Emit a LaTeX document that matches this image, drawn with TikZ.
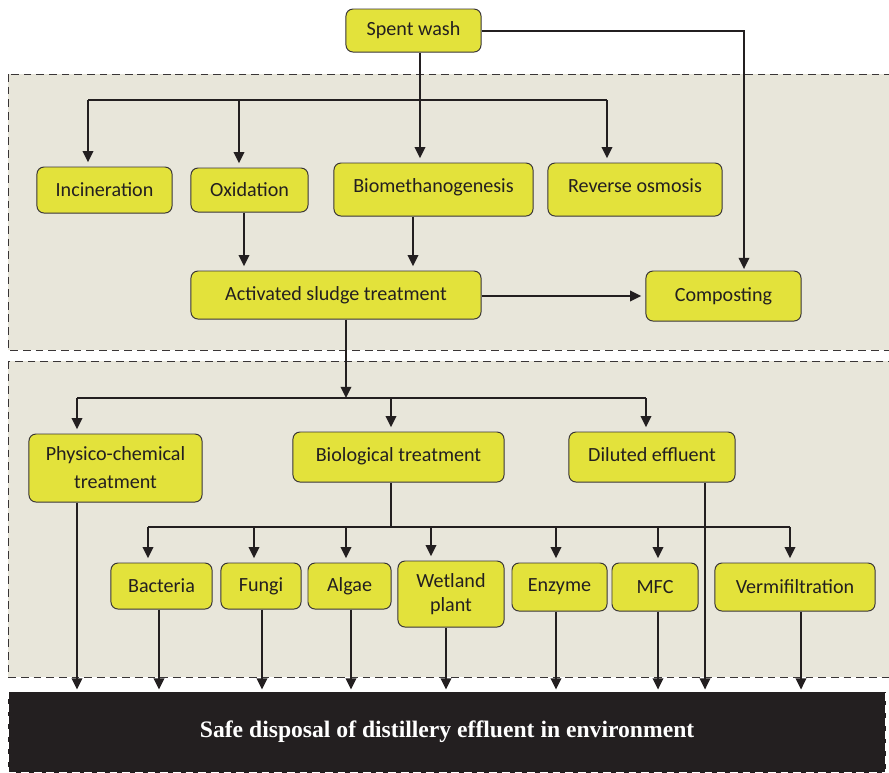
\documentclass[tikz,border=0pt]{standalone}
\usepackage{fontspec}
\setmainfont{Carlito}
\newfontfamily\serifbold{Liberation Serif}
\usetikzlibrary{arrows.meta}
\definecolor{boxyellow}{HTML}{E3E23B}
\definecolor{panelgray}{HTML}{E8E6DA}
\definecolor{inkdark}{HTML}{231F20}

\begin{document}
\begin{tikzpicture}[x=0.025cm, y=-0.025cm,
  box/.style={draw=inkdark!90, fill=boxyellow, rounded corners=5pt, line width=0.7pt,
    font=\fontsize{14.3}{20}\selectfont, text=inkdark, align=center, inner sep=0pt},
  panel/.style={draw=inkdark!90, fill=panelgray, line width=0.7pt, dash pattern=on 5.5pt off 3.5pt},
  arr/.style={-{Triangle[length=8pt,width=7.5pt]}, line width=1.4pt, draw=inkdark, shorten >=3pt},
  line/.style={line width=1.4pt, draw=inkdark}]
  \useasboundingbox (0,0) rectangle (889,772);
  \fill[white] (0,0) rectangle (889,772);
  \draw[panel] (8,74) rectangle (889,350);
  \draw[panel] (8,361) rectangle (889,677);
  \node[fill=inkdark, draw=white, dash pattern=on 5.5pt off 3.5pt, line width=0.7pt,
    minimum width=21.925cm, minimum height=2.025cm, anchor=north west,
    font=\serifbold\bfseries\fontsize{16.8}{20}\selectfont, text=white] (safe) at (8,691)
    {Safe disposal of distillery effluent in environment};

  \node[box, minimum width=3.375cm, minimum height=1.075cm] (spent) at (413.5,30.5) {Spent wash};
  \node[box, minimum width=3.375cm, minimum height=1.15cm] (incin) at (104.5,190) {Incineration};
  \node[box, minimum width=2.925cm, minimum height=1.1cm] (oxid) at (249.5,190) {Oxidation};
  \node[box, minimum width=4.975cm, minimum height=1.325cm, text depth=0.22cm] (bio) at (433.5,189.5) {Biomethanogenesis};
  \node[box, minimum width=4.35cm, minimum height=1.325cm, text depth=0.22cm] (ro) at (635,189.5) {Reverse osmosis};
  \node[box, minimum width=7.25cm, minimum height=1.2cm] (asl) at (336,295) {Activated sludge treatment};
  \node[box, minimum width=3.875cm, minimum height=1.25cm] (comp) at (723.5,296) {Composting};
  \node[box, minimum width=4.325cm, minimum height=1.7cm, font=\fontsize{14.3}{20}\selectfont] (phys) at (115.5,468) {Physico-chemical\\treatment};
  \node[box, minimum width=5.275cm, minimum height=1.25cm, text depth=0.12cm] (biol) at (398.5,457) {Biological treatment};
  \node[box, minimum width=4.15cm, minimum height=1.25cm, text depth=0.12cm] (dil) at (652,457) {Diluted effluent};
  \node[box, minimum width=2.525cm, minimum height=1.15cm] (bact) at (161.5,586) {Bacteria};
  \node[box, minimum width=2cm, minimum height=1.15cm] (fungi) at (261,586) {Fungi};
  \node[box, minimum width=2.075cm, minimum height=1.15cm] (algae) at (349.5,586) {Algae};
  \node[box, minimum width=2.65cm, minimum height=1.65cm, font=\fontsize{14.3}{17}\selectfont] (wet) at (451,594) {Wetland\\plant};
  \node[box, minimum width=2.375cm, minimum height=1.2cm] (enz) at (559.5,587) {Enzyme};
  \node[box, minimum width=2.15cm, minimum height=1.2cm] (mfc) at (655,587) {MFC};
  \node[box, minimum width=4cm, minimum height=1.2cm] (verm) at (795,587) {Vermifiltration};

  \coordinate (j1) at (420,100);
  \coordinate (j2) at (346,398);
  \coordinate (j3) at (391,527);
  \coordinate (c) at (744,31);
  \draw[line] (spent.south -| j1) -- (j1);
  \draw[line] (88,100) coordinate (l1) -- (607,100) coordinate (r1);
  \foreach \x/\n in {88/incin,239/oxid,420/bio,607/ro} {
    \coordinate (d) at (\x,100);
    \draw[arr] (d) -- (d |- \n.north);
  }
  \draw[arr, shorten >=1pt] (spent.east |- c) -- (c) -- (c |- comp.north);
  \foreach \x/\n in {244/oxid,413/bio} {
    \coordinate (d) at (\x,0);
    \draw[arr] (d |- \n.south) -- (d |- asl.north);
  }
  \draw[arr] (asl.east |- comp.west) -- (comp.west);
  \draw[arr, shorten >=0pt] (asl.south -| j2) -- (j2);
  \draw[line] (77,398) -- (646,398);
  \foreach \x/\n in {77/phys,391/biol,646/dil} {
    \coordinate (d) at (\x,398);
    \draw[arr] (d) -- (d |- \n.north);
  }
  \draw[line] (biol.south -| j3) -- (j3);
  \draw[line] (148,527) -- (790,527);
  \foreach \x/\n in {148/bact,254/fungi,346/algae,431/wet,556/enz,658/mfc,790/verm} {
    \coordinate (d) at (\x,527);
    \draw[arr] (d) -- (d |- \n.north);
  }
  \foreach \x/\n in {77/phys,159/bact,262/fungi,351/algae,446/wet,556/enz,658/mfc,705/dil,801/verm} {
    \coordinate (d) at (\x,0);
    \draw[arr, shorten >=1pt] (d |- \n.south) -- (d |- safe.north);
  }
\end{tikzpicture}
\end{document}
